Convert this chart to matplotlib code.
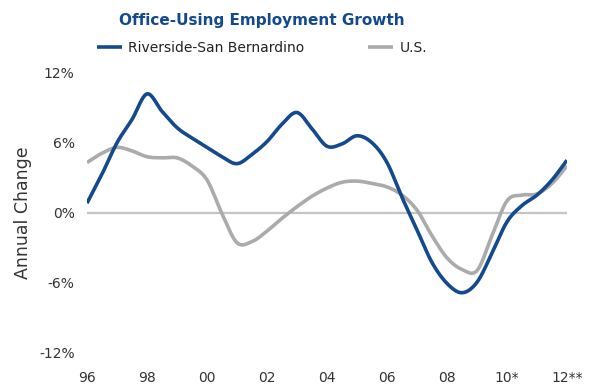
import numpy as np
import matplotlib
matplotlib.use("Agg")
import matplotlib.pyplot as plt
from matplotlib.ticker import FuncFormatter

# Annual change in office-using employment, read every half year
years = np.arange(1996.0, 2012.01, 0.5)
riverside = [0.8, 3.3, 6.0, 8.0, 10.2, 8.7, 7.3, 6.4, 5.6, 4.8, 4.2, 5.0, 6.1, 7.6,
             8.6, 7.2, 5.7, 5.9, 6.6, 6.0, 4.3, 1.3, -1.5, -4.3, -6.1, -6.9, -6.0,
             -3.5, -0.8, 0.6, 1.5, 2.8, 4.5]
us = [4.3, 5.1, 5.6, 5.3, 4.8, 4.7, 4.7, 4.0, 2.8, -0.1, -2.6, -2.5, -1.6, -0.5,
      0.5, 1.4, 2.1, 2.6, 2.7, 2.5, 2.2, 1.5, 0.2, -2.0, -3.9, -4.9, -5.0, -2.0,
      1.0, 1.5, 1.6, 2.5, 4.0]

tick_years = [1996, 1998, 2000, 2002, 2004, 2006, 2008, 2010, 2012]
tick_labels = ["96", "98", "00", "02", "04", "06", "08", "10*", "12**"]
y_ticks = [-12, -6, 0, 6, 12]

BLUE = "#134a8e"
GRAY = "#ababab"
TEXT = "#333333"


def smooth(x, y, n=20):
    """Catmull-Rom curve through the given points."""
    x = np.asarray(x, float)
    y = np.asarray(y, float)
    px = np.concatenate([[2 * x[0] - x[1]], x, [2 * x[-1] - x[-2]]])
    py = np.concatenate([[2 * y[0] - y[1]], y, [2 * y[-1] - y[-2]]])
    t = np.linspace(0, 1, n, endpoint=False)
    xs, ys = [], []
    for i in range(1, len(px) - 2):
        for arr, out in ((px, xs), (py, ys)):
            p0, p1, p2, p3 = arr[i - 1], arr[i], arr[i + 1], arr[i + 2]
            out.append(0.5 * ((2 * p1) + (-p0 + p2) * t
                              + (2 * p0 - 5 * p1 + 4 * p2 - p3) * t ** 2
                              + (-p0 + 3 * p1 - 3 * p2 + p3) * t ** 3))
    xs.append([x[-1]])
    ys.append([y[-1]])
    return np.concatenate(xs), np.concatenate(ys)


fig = plt.figure(figsize=(5.93, 3.84), dpi=100)
ax = fig.add_axes([87 / 593, 32 / 384, (567 - 87) / 593, (352 - 73) / 384])

ax.axhline(0, color="#c4c4c4", lw=1.6, zorder=1)

sx, sy = smooth(years, us)
ax.plot(sx, sy, color=GRAY, lw=2.6, solid_capstyle="butt", label="U.S.", zorder=2)
sx, sy = smooth(years, riverside)
ax.plot(sx, sy, color=BLUE, lw=2.6, solid_capstyle="butt",
        label="Riverside-San Bernardino", zorder=3)

ax.set_xlim(1996, 2012)
ax.set_ylim(-12, 12)
ax.set_xticks(tick_years)
ax.set_xticklabels(tick_labels)
ax.set_yticks(y_ticks)
ax.yaxis.set_major_formatter(FuncFormatter(lambda v, _: f"{v:.0f}%"))
ax.tick_params(length=0, labelsize=10, colors=TEXT)
ax.tick_params(axis="x", pad=14)
ax.tick_params(axis="y", pad=9)
for s in ax.spines.values():
    s.set_visible(False)

ax.set_ylabel("Annual Change", fontsize=12.5, color=TEXT, labelpad=5)

fig.text(262 / 593, 1 - 20 / 384, "Office-Using Employment Growth",
         ha="center", va="center", fontsize=11, fontweight="bold", color=BLUE)

h, l = ax.get_legend_handles_labels()
fig.legend(h[::-1], l[::-1], loc="center left", ncol=2, frameon=False,
           bbox_to_anchor=(97 / 593, 1 - 48 / 384), borderpad=0, borderaxespad=0,
           handlelength=1.8, handletextpad=0.45, columnspacing=4.6,
           fontsize=10, labelcolor="#222222")

fig.savefig("out.png", dpi=100)
